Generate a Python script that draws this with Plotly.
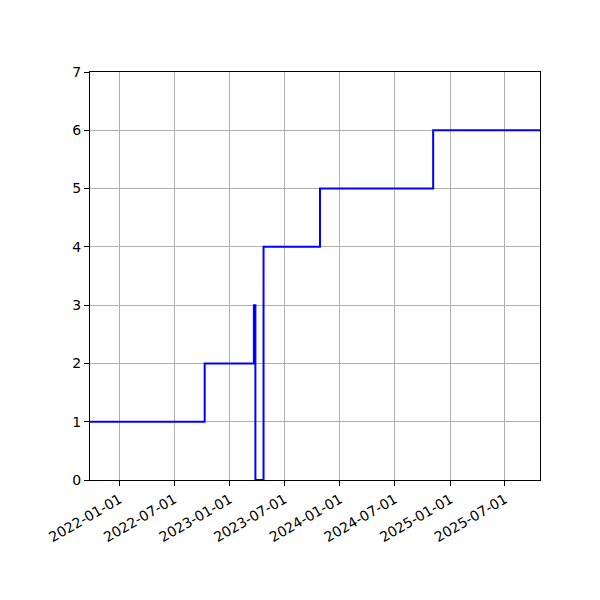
"""Step chart of a count over time (matplotlib-like look)."""

import plotly.graph_objects as go

# change dates and the value held from each date on
change_dates = ["2021-09-25", "2022-10-10", "2023-03-22", "2023-03-27",
                "2023-04-23", "2023-10-27", "2024-11-05", "2025-10-25"]
step_values = [1, 2, 3, 0, 4, 5, 6, 6]

x_tick_dates = ["2022-01-01", "2022-07-01", "2023-01-01", "2023-07-01",
                "2024-01-01", "2024-07-01", "2025-01-01", "2025-07-01"]
y_ticks = [0, 1, 2, 3, 4, 5, 6, 7]

fig = go.Figure()
fig.add_trace(go.Scatter(
    x=change_dates, y=step_values, mode='lines', line_shape='hv',
    line=dict(color='blue', width=2), showlegend=False
))

axis_style = dict(
    showline=True, linecolor='black', linewidth=1, mirror=True,
    ticks='outside', ticklen=5, tickcolor='black', tickwidth=1,
    showgrid=True, gridcolor='#b0b0b0', gridwidth=1, zeroline=False,
    tickfont=dict(family='DejaVu Sans', size=14, color='black'),
)

fig.update_xaxes(
    type='date', range=["2021-09-25", "2025-10-25"],
    tickvals=x_tick_dates, ticktext=x_tick_dates, tickangle=-30,
    **axis_style
)
fig.update_yaxes(range=[0, 7], tickvals=y_ticks, **axis_style)

# page body adds an 8px offset, so margins are shifted to compensate
fig.update_layout(
    width=600, height=600,
    margin=dict(l=82, r=68, t=64, b=128),
    plot_bgcolor='white', paper_bgcolor='white',
)

fig.write_html("out.html")
